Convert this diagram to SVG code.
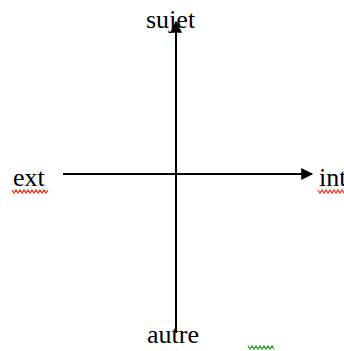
<svg xmlns="http://www.w3.org/2000/svg" width="344" height="351" viewBox="0 0 344 351">
<style>
.lbl{font-family:"Liberation Serif","Times New Roman",serif;font-size:26px;fill:#000}
.axis{stroke:#000;stroke-width:2;fill:none}
.sq-red{stroke:#f03c1e;stroke-width:1.3;fill:none}
.sq-green{stroke:#2ca02c;stroke-width:1.3;fill:none}
</style>
<defs>
<marker id="arr" viewBox="0 0 10 10" refX="9" refY="5" markerWidth="8" markerHeight="6" markerUnits="strokeWidth" orient="auto">
<path d="M0,0 L10,5 L0,10 Z" fill="#000"/>
</marker>
</defs>
<rect width="344" height="351" fill="#fff"/>
<g id="connectors">
<line class="axis" x1="176" y1="333" x2="176" y2="22" marker-end="url(#arr)"/>
<line class="axis" x1="63" y1="174" x2="312" y2="174" marker-end="url(#arr)"/>
</g>
<g id="sujet"><text class="lbl" x="146" y="28">sujet</text></g>
<g id="ext"><text class="lbl" x="13" y="186">ext</text>
<polyline class="sq-red" points="12,190 14,193 16,190 18,193 20,190 22,193 24,190 26,193 28,190 30,193 32,190 34,193 36,190 38,193 40,190 42,193 44,190 46,193 48,190"/></g>
<g id="int"><text class="lbl" x="319" y="186">int</text>
<polyline class="sq-red" points="318,190 320,193 322,190 324,193 326,190 328,193 330,190 332,193 334,190 336,193 338,190 340,193 342,190 344,193"/></g>
<g id="autre"><text class="lbl" x="147" y="343">autre</text></g>
<polyline class="sq-green" points="248,346 250,349 252,346 254,349 256,346 258,349 260,346 262,349 264,346 266,349 268,346 270,349 272,346 274,349"/>
</svg>
